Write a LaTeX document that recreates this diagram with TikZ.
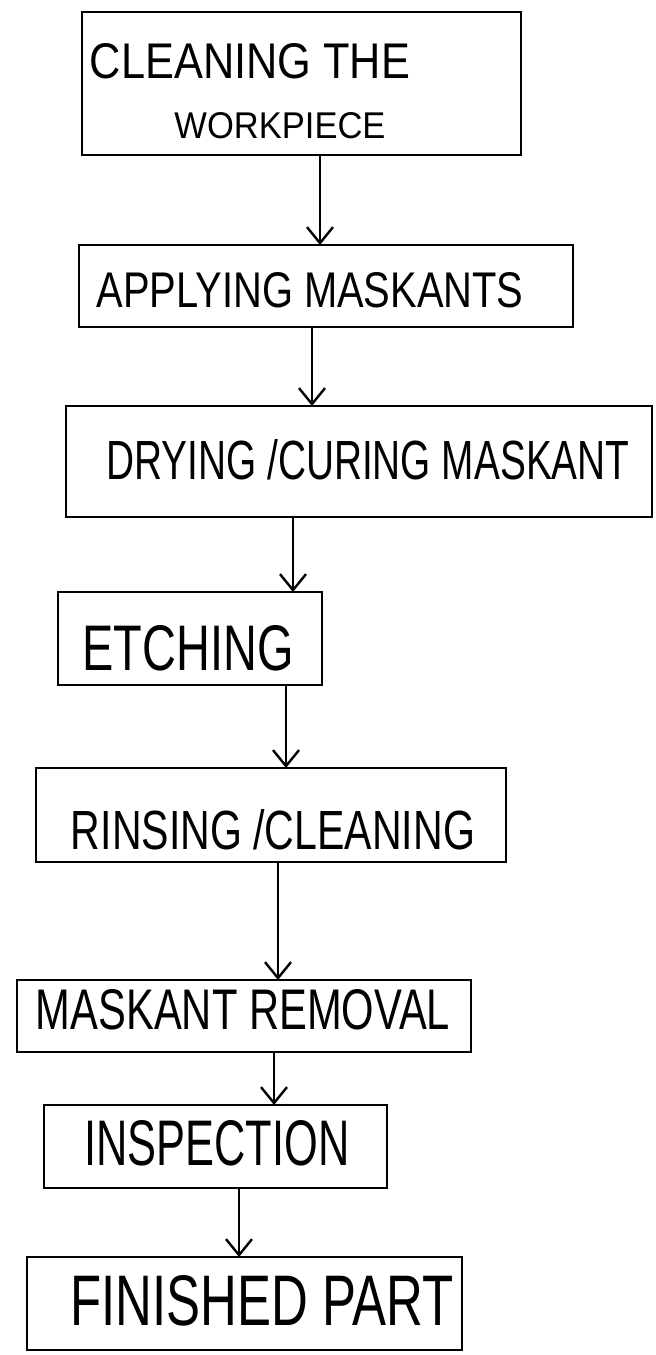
\documentclass[tikz,border=0pt]{standalone}
\usepackage{fontspec}
\setmainfont{Liberation Sans}
\usetikzlibrary{arrows.meta}
\newcommand{\lbl}[3]{\resizebox{#1}{#2}{#3}}
\tikzset{
  stepbox/.style={draw=black, line width=2.6pt, inner sep=0pt, outer sep=0pt},
  lbltext/.style={inner sep=0pt, outer sep=0pt, text=black},
  flow/.style={draw=black, line width=2.6pt, -{Straight Barb[length=16pt,width=26pt,line width=2.4pt]}}
}
\begin{document}
\begin{tikzpicture}[x=1pt,y=-1pt]
\useasboundingbox[fill=white] (0,0) rectangle (656,1355);
% boxes
\node[stepbox, minimum width=439pt, minimum height=143pt] (b1) at (301.5,83.5) {};
\node[stepbox, minimum width=494pt, minimum height=82pt] (b2) at (326,286) {};
\node[stepbox, minimum width=586pt, minimum height=111pt] (b3) at (359,461.5) {};
\node[stepbox, minimum width=264pt, minimum height=93pt] (b4) at (190,638.5) {};
\node[stepbox, minimum width=470pt, minimum height=94pt] (b5) at (271,815) {};
\node[stepbox, minimum width=454pt, minimum height=72pt] (b6) at (244,1016) {};
\node[stepbox, minimum width=343pt, minimum height=83pt] (b7) at (215.5,1146.5) {};
\node[stepbox, minimum width=435pt, minimum height=93pt] (b8) at (244.5,1303.5) {};
% texts
\node[lbltext] (t1a) at (250,61) {\lbl{320pt}{35pt}{CLEANING THE}};
\node[lbltext] (t1b) at (280,126) {\lbl{211pt}{26pt}{WORKPIECE}};
\node[lbltext] (t2) at (310,290) {\lbl{427pt}{35pt}{APPLYING MASKANTS}};
\node[lbltext] (t3) at (368,460) {\lbl{523pt}{40pt}{DRYING /CURING MASKANT}};
\node[lbltext] (t4) at (188,648) {\lbl{211pt}{45pt}{ETCHING}};
\node[lbltext] (t5) at (273,830) {\lbl{404pt}{40pt}{RINSING /CLEANING}};
\node[lbltext] (t6) at (243,1010) {\lbl{414pt}{40pt}{MASKANT REMOVAL}};
\node[lbltext] (t7) at (217,1143) {\lbl{265pt}{45pt}{INSPECTION}};
\node[lbltext] (t8) at (262,1301) {\lbl{383pt}{50pt}{FINISHED PART}};
% connectors
\draw[flow] (b1.south -| 320,0) -- (b2.north -| 320,0);
\draw[flow] (b2.south -| 312,0) -- (b3.north -| 312,0);
\draw[flow] (b3.south -| 293,0) -- (b4.north -| 293,0);
\draw[flow] (b4.south -| 286,0) -- (b5.north -| 286,0);
\draw[flow] (b5.south -| 278,0) -- (b6.north -| 278,0);
\draw[flow] (b6.south -| 274,0) -- (b7.north -| 274,0);
\draw[flow] (b7.south -| 239,0) -- (b8.north -| 239,0);
\end{tikzpicture}
\end{document}
